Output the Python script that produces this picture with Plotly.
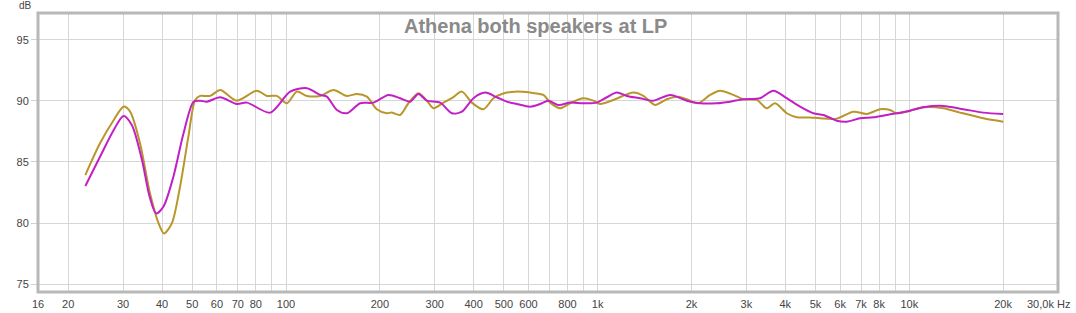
import plotly.graph_objects as go

# ---- data (Hz, dB) ----
gold_freq = [22.7, 25.3, 28.0, 30.1, 31.6, 34.0, 36.6, 39.0, 40.6, 43.0, 45.7, 48.6, 51.1,
             53.0, 57.1, 61.5, 69.5, 80.6, 86.8, 93.4, 100.6, 108.3, 116.7, 128.7, 142.0,
             156.8, 168.8, 181.7, 195.6, 210.6, 218.0, 232.4, 247.0, 266.0, 283.0, 297.2,
             319.9, 340.4, 366.7, 394.6, 429.9, 462.8, 492.6, 543.5, 607.0, 669.7, 703.8,
             757.6, 815.8, 900.0, 968.8, 1018, 1123, 1302, 1402, 1528, 1667, 1816, 1979,
             2104, 2294, 2471, 2726, 2934, 3240, 3488, 3708, 4044, 4354, 4804, 5172, 5850,
             6614, 7302, 8056, 8672, 9112, 10054, 11090, 12856, 14550, 17284, 20000]
gold_db = [83.93, 86.53, 88.44, 89.53, 89.12, 86.53, 82.43, 79.97, 79.15, 79.97, 82.97, 87.07, 90.08,
           90.41, 90.41, 90.90, 90.02, 90.84, 90.41, 90.41, 89.81, 90.76, 90.41, 90.41, 90.90,
           90.41, 90.57, 90.35, 89.32, 88.99, 89.05, 88.85, 89.81, 90.63, 90.02, 89.40,
           89.86, 90.22, 90.76, 89.86, 89.32, 90.22, 90.57, 90.76, 90.68, 90.49, 89.86,
           89.40, 89.81, 90.22, 90.02, 89.75, 90.08, 90.68, 90.41, 89.67, 90.14, 90.35, 90.02,
           89.81, 90.49, 90.84, 90.49, 90.14, 90.08, 89.40, 89.81, 88.99, 88.66, 88.65, 88.58, 88.55,
           89.12, 88.93, 89.32, 89.26, 88.99, 89.20, 89.48, 89.40, 89.04, 88.58, 88.30]

magenta_freq = [22.7, 25.3, 28.0, 30.1, 32.0, 34.5, 36.5, 38.3, 40.4, 43.5, 46.9, 50.5,
                53.0, 55.7, 61.5, 69.5, 74.9, 88.9, 103.1, 116.7, 128.7, 135.2, 145.6, 156.8,
                172.9, 190.8, 213.1, 232.4, 250.2, 266.0, 283.0, 312.2, 340.4, 366.7, 399.4,
                435.3, 474.6, 511.0, 550.4, 607.0, 653.6, 695.0, 748.2, 815.8, 900.0, 993.4,
                1070, 1152, 1240, 1368, 1509, 1708, 1932, 2132, 2411, 2660, 2934, 3320, 3662,
                4044, 4462, 4922, 5300, 5850, 6298, 6950, 7668, 8464, 9112, 10054, 11090,
                12856, 14910, 17284, 20000]
magenta_db = [83.03, 85.43, 87.62, 88.77, 88.03, 85.16, 82.15, 80.79, 81.33, 83.79, 87.35, 89.94,
              90.02, 89.94, 90.30, 89.75, 89.86, 89.04, 90.76, 91.04, 90.49, 90.35, 89.26, 88.99,
              89.81, 89.86, 90.49, 90.22, 89.94, 90.57, 90.02, 89.86, 88.99, 89.12, 90.22,
              90.68, 90.30, 89.94, 89.75, 89.53, 89.75, 90.02, 89.67, 89.86, 89.81, 89.86,
              90.30, 90.68, 90.41, 90.22, 90.02, 90.49, 90.02, 89.81, 89.81, 89.94, 90.14, 90.22, 90.84,
              90.22, 89.53, 88.99, 88.85, 88.38, 88.30, 88.58, 88.66, 88.85, 88.99, 89.20, 89.48,
              89.59, 89.32, 89.04, 88.93]

x_tickvals = [16, 20, 30, 40, 50, 60, 70, 80, 90, 100, 200, 300, 400, 500, 600, 700, 800, 900,
              1000, 2000, 3000, 4000, 5000, 6000, 7000, 8000, 9000, 10000, 20000]
x_ticktext = ["16", "20", "30", "40", "50", "60", "70", "80", "", "100", "200", "300", "400",
              "500", "600", "", "800", "", "1k", "2k", "3k", "4k", "5k", "6k", "7k", "8k", "",
              "10k", "20k"]
y_tickvals = [75, 80, 85, 90, 95]
y_ticktext = ["75", "80", "85", "90", "95"]

title_text = "Athena both speakers at LP"
y_unit = "dB"
x_last_label = "30,0k Hz"

FONT = "Liberation Sans, Arial, sans-serif"

fig = go.Figure()
fig.add_trace(go.Scatter(x=gold_freq, y=gold_db, mode="lines",
                         line=dict(color="#b8962a", width=2, shape="spline", smoothing=0.8),
                         showlegend=False, hoverinfo="skip"))
fig.add_trace(go.Scatter(x=magenta_freq, y=magenta_db, mode="lines",
                         line=dict(color="#c21fc4", width=2, shape="spline", smoothing=0.8),
                         showlegend=False, hoverinfo="skip"))

fig.update_layout(
    width=1076, height=313,
    margin=dict(l=38, r=18, t=13, b=21, autoexpand=False),
    paper_bgcolor="white", plot_bgcolor="white",
    font=dict(family=FONT, size=11, color="#444444"),
    xaxis=dict(type="log", range=[1.20412, 4.47712], automargin=False,
               tickvals=x_tickvals, ticktext=x_ticktext,
               showgrid=True, gridcolor="#d6d6d6", gridwidth=1,
               zeroline=False, showline=False, ticks="", ticklabelstandoff=4,
               tickfont=dict(family=FONT, size=11, color="#444444")),
    yaxis=dict(range=[74.35, 97.2], tickvals=y_tickvals, ticktext=y_ticktext,
               automargin=False,
               showgrid=True, gridcolor="#d6d6d6", gridwidth=1,
               zeroline=False, showline=False, ticks="outside", ticklen=6,
               tickcolor="#d0d0d0",
               tickfont=dict(family=FONT, size=11, color="#444444")),
    shapes=[dict(type="rect", xref="paper", yref="paper", x0=0, y0=0, x1=1, y1=1,
                 line=dict(color="#b8b8b8", width=3), layer="above")],
    annotations=[
        dict(text=title_text, xref="paper", yref="paper", x=0.488, y=0.955,
             xanchor="center", yanchor="middle", showarrow=False,
             font=dict(family=FONT, size=20, color="#8a8a8a", weight="bold")),
        dict(text=y_unit, xref="paper", yref="paper", x=-0.005, y=1.0, yshift=8,
             xanchor="right", yanchor="middle", showarrow=False, borderpad=0,
             font=dict(family=FONT, size=10, color="#444444")),
        dict(text=x_last_label, xref="paper", yref="paper", x=1.0, y=0, xshift=14, yshift=-12,
             xanchor="right", yanchor="middle", showarrow=False,
             font=dict(family=FONT, size=11, color="#444444")),
    ],
)

fig.write_html("out.html")
